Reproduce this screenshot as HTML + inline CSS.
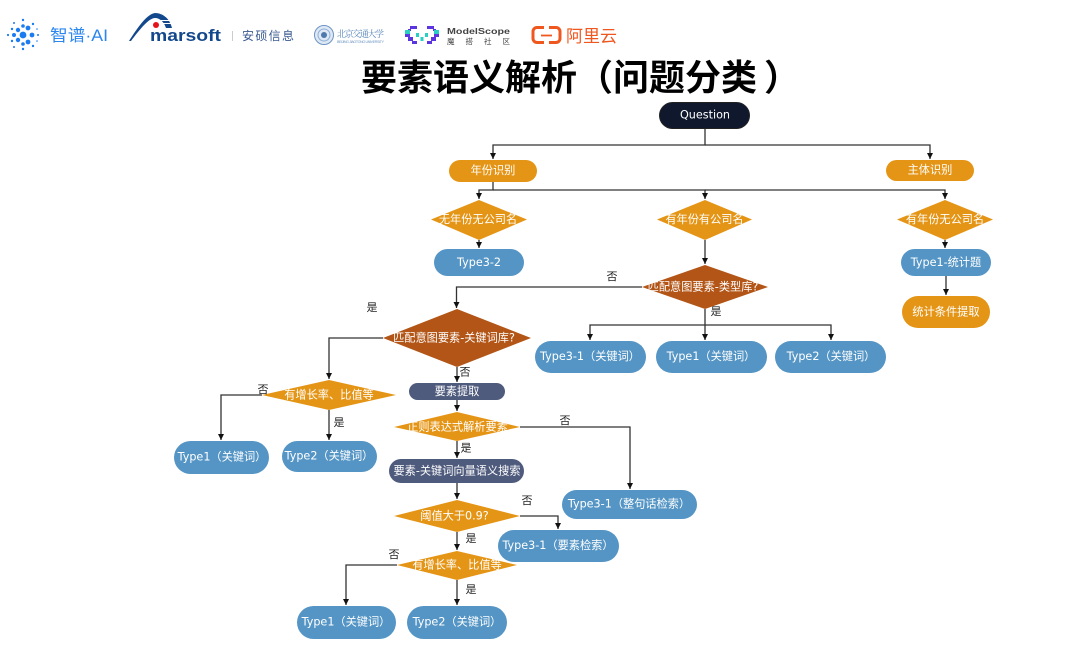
<!DOCTYPE html>
<html><head><meta charset="utf-8"><style>
html,body{margin:0;padding:0;background:#fff;width:1080px;height:660px;overflow:hidden}
svg{display:block}
text{font-family:"Liberation Sans","Noto Sans CJK SC",sans-serif}
.t{fill:#fff;font-size:11.2px;text-anchor:middle;dominant-baseline:central;font-family:"DejaVu Sans","Noto Sans CJK SC",sans-serif}
.l{fill:#222;font-size:11px;text-anchor:middle;dominant-baseline:central}
.c{fill:none;stroke:#333;stroke-width:1.3}
</style></head><body>
<svg width="1080" height="660" viewBox="0 0 1080 660" xmlns="http://www.w3.org/2000/svg">
<defs><marker id="a" markerUnits="userSpaceOnUse" markerWidth="8" markerHeight="8" refX="6" refY="3" orient="auto"><path d="M0 0L6 3L0 6z" fill="#111"/></marker></defs>

<!-- logos -->
<g fill="#1b7bf0">
<circle cx="23" cy="35" r="3.4"/><circle cx="18" cy="30" r="2.2"/><circle cx="28" cy="28" r="2.4"/><circle cx="18" cy="40" r="2.2"/><circle cx="28" cy="42" r="2.4"/><circle cx="32" cy="35" r="2.4"/><circle cx="14" cy="35" r="2"/><circle cx="23" cy="26" r="1.8"/><circle cx="23" cy="44" r="1.8"/><circle cx="12" cy="29" r="1.2"/><circle cx="12" cy="41" r="1.2"/><circle cx="33" cy="24" r="1.2"/><circle cx="33" cy="46" r="1.2"/><circle cx="14" cy="23" r="1"/><circle cx="14" cy="47" r="1"/><circle cx="23" cy="20" r="1.2"/><circle cx="23" cy="49" r="1.2"/><circle cx="38" cy="35" r="1"/><circle cx="8" cy="35" r="1.1"/><circle cx="37" cy="29" r=".8"/><circle cx="37" cy="41" r=".8"/>
</g>
<text x="50" y="41" font-size="16.500" fill="#2b86ee" textLength="58" lengthAdjust="spacingAndGlyphs">智谱·AI</text>
<path d="M129 41C138 27 147 14 155 13C163 13 170 19 172 28L166 28C164 22 160 18 155 18C149 18 140 29 131 41z" fill="#14488c"/>
<path d="M161 20.500H173M163 23.500H173" stroke="#fff" stroke-width="1"/>
<circle cx="156" cy="25" r="3" fill="#e5141b"/>
<text x="150" y="41" font-size="17" font-weight="bold" fill="#14488c" textLength="71" lengthAdjust="spacingAndGlyphs">marsoft</text>
<rect x="232" y="31" width="1" height="10" fill="#ccc"/>
<text x="242" y="40" font-size="12" fill="#3a5a92" textLength="52">安硕信息</text>
<circle cx="324" cy="35" r="9.500" fill="#dfe9f5" stroke="#6c95c4"/><circle cx="324" cy="35" r="6" fill="none" stroke="#8fb0d6"/><circle cx="324" cy="35" r="3" fill="#4d79ac"/>
<text x="337" y="37" font-size="9" fill="#5583b8" textLength="47" style="font-family:'Liberation Serif','Noto Serif CJK SC',serif">北京交通大学</text>
<text x="337" y="43" font-size="3.600" fill="#6c95c4" textLength="47">BEIJING JIAOTONG UNIVERSITY</text>
<g fill="#5a35e0">
<rect x="410" y="26" width="7" height="3"/><rect x="408" y="29" width="3" height="2"/><rect x="405" y="34" width="5" height="3"/><rect x="408" y="37" width="5" height="4"/><rect x="412" y="41" width="5" height="3"/>
<rect x="427" y="26" width="7" height="3"/><rect x="433" y="29" width="3" height="2"/><rect x="434" y="34" width="5" height="3"/><rect x="431" y="37" width="5" height="4"/><rect x="427" y="41" width="5" height="3"/>
</g>
<g fill="#28cfc2"><rect x="405" y="30" width="5" height="4"/><rect x="434" y="30" width="5" height="4"/><rect x="416" y="33" width="3" height="4"/><rect x="420.500" y="37" width="3" height="4"/><rect x="425" y="33" width="3" height="4"/></g>
<text x="447" y="34" font-size="8.500" font-weight="bold" fill="#444" textLength="63" lengthAdjust="spacingAndGlyphs">ModelScope</text>
<text x="447" y="44" font-size="7.500" fill="#444" textLength="63">魔搭社区</text>
<path d="M544 27.500H537a4 4 0 0 0-4 4V38.500a4 4 0 0 0 4 4H544M549 27.500H556a4 4 0 0 1 4 4V38.500a4 4 0 0 1-4 4H549" fill="none" stroke="#f0571f" stroke-width="3"/>
<path d="M541 35.500H552" stroke="#f0571f" stroke-width="1.800"/>
<text x="566" y="42" font-size="17" fill="#f0571f">阿里云</text>

<text x="361" y="90" font-size="36" font-weight="bold" fill="#000" style="font-family:'Noto Sans CJK SC',sans-serif">要素语义解析（问题分类</text>
<text x="764" y="90" font-size="36" font-weight="bold" fill="#000" style="font-family:'Noto Sans CJK SC',sans-serif">）</text>

<!-- connectors -->
<path class="c" d="M705 129V145H493V159" marker-end="url(#a)"/>
<path class="c" d="M705 145H930V159" marker-end="url(#a)"/>
<path class="c" d="M493 182V190H479V199" marker-end="url(#a)"/>
<path class="c" d="M493 190H705V199" marker-end="url(#a)"/>
<path class="c" d="M705 190H945V199" marker-end="url(#a)"/>
<path class="c" d="M479 240V248" marker-end="url(#a)"/>
<path class="c" d="M705 240V264" marker-end="url(#a)"/>
<path class="c" d="M945 240V248" marker-end="url(#a)"/>
<path class="c" d="M946 276V295" marker-end="url(#a)"/>
<path class="c" d="M642 287H456.500V308" marker-end="url(#a)"/>
<path class="c" d="M705 309V325H590V340" marker-end="url(#a)"/>
<path class="c" d="M705 325V340" marker-end="url(#a)"/>
<path class="c" d="M705 325H831V340" marker-end="url(#a)"/>
<path class="c" d="M383 338H329V379" marker-end="url(#a)"/>
<path class="c" d="M457 367V382" marker-end="url(#a)"/>
<path class="c" d="M262 395H221V440" marker-end="url(#a)"/>
<path class="c" d="M329 410V440" marker-end="url(#a)"/>
<path class="c" d="M457 400V411" marker-end="url(#a)"/>
<path class="c" d="M520 427H630V489" marker-end="url(#a)"/>
<path class="c" d="M457 441V458" marker-end="url(#a)"/>
<path class="c" d="M457 483V499" marker-end="url(#a)"/>
<path class="c" d="M520 516H558V529" marker-end="url(#a)"/>
<path class="c" d="M457 532V550" marker-end="url(#a)"/>
<path class="c" d="M397 565H346V605" marker-end="url(#a)"/>
<path class="c" d="M457 580V605" marker-end="url(#a)"/>

<!-- nodes -->
<rect x="659.500" y="102.500" width="90" height="26" rx="13" fill="#10182e" stroke="#222"/>
<text class="t" x="705" y="115">Question</text>
<rect x="449" y="160" width="88" height="22" rx="11" fill="#e59516"/><text class="t" x="493" y="170.500">年份识别</text>
<rect x="886" y="160" width="88" height="21" rx="10.500" fill="#e59516"/><text class="t" x="930" y="170">主体识别</text>

<g fill="#e59516">
<polygon points="431,219.500 479,200 527,219.500 479,240"/>
<polygon points="657,219.500 705,200 752,219.500 705,240"/>
<polygon points="897,219.500 945,200 993,219.500 945,240"/>
<polygon points="262,395 329,380 396,395 329,410"/>
<polygon points="394,427 457,412 520,427 457,441"/>
<polygon points="394,516 457,500 520,516 457,532"/>
<polygon points="397,565 457,551 517,565 457,580"/>
</g>
<g fill="#b25516">
<polygon points="642,287 705,265 768,287 705,309"/>
<polygon points="383,338 457,309 531,338 457,367"/>
</g>
<text class="t" x="478" y="219.500">无年份无公司名</text>
<text class="t" x="704.500" y="219.500">有年份有公司名</text>
<text class="t" x="945" y="219.500">有年份无公司名</text>
<text class="t" x="703" y="287">匹配意图要素-类型库?</text>
<text class="t" x="454" y="338">匹配意图要素-关键词库?</text>
<text class="t" x="329" y="395">有增长率、比值等</text>
<text class="t" x="457.500" y="427">正则表达式解析要素</text>
<text class="t" x="454.500" y="516">阈值大于0.9?</text>
<text class="t" x="457" y="565">有增长率、比值等</text>

<g fill="#5495c5">
<rect x="434" y="249" width="90" height="27" rx="13.500"/>
<rect x="901" y="249" width="90" height="27" rx="13.500"/>
<rect x="535" y="341" width="111" height="32" rx="16"/>
<rect x="656" y="341" width="111" height="32" rx="16"/>
<rect x="775" y="341" width="111" height="32" rx="16"/>
<rect x="174" y="441" width="95" height="33" rx="16.500"/>
<rect x="282" y="441" width="95" height="31" rx="15.500"/>
<rect x="562" y="490" width="135" height="29" rx="14.500"/>
<rect x="498" y="530" width="121" height="32" rx="16"/>
<rect x="297" y="606" width="99" height="33" rx="16.500"/>
<rect x="407" y="606" width="100" height="33" rx="16.500"/>
</g>
<rect x="902" y="296" width="88" height="32" rx="16" fill="#e59516"/>
<rect x="409" y="383" width="96" height="17" rx="8.500" fill="#4f5b7d"/>
<rect x="389" y="459" width="135" height="24" rx="12" fill="#4f5b7d"/>

<text class="t" x="479" y="262.500">Type3-2</text>
<text class="t" x="946" y="262.500">Type1-统计题</text>
<text class="t" x="946" y="312">统计条件提取</text>
<text class="t" x="590" y="356.500">Type3-1（关键词）</text>
<text class="t" x="711" y="356.500">Type1（关键词）</text>
<text class="t" x="831" y="356.500">Type2（关键词）</text>
<text class="t" x="457" y="391.500">要素提取</text>
<text class="t" x="222" y="457">Type1（关键词）</text>
<text class="t" x="329" y="456">Type2（关键词）</text>
<text class="t" x="457" y="471">要素-关键词向量语义搜索</text>
<text class="t" x="629" y="504">Type3-1（整句话检索）</text>
<text class="t" x="558" y="545.500">Type3-1（要素检索）</text>
<text class="t" x="346" y="622">Type1（关键词）</text>
<text class="t" x="457" y="622">Type2（关键词）</text>

<!-- labels -->
<text class="l" x="612" y="277">否</text>
<text class="l" x="716" y="312">是</text>
<text class="l" x="372" y="308">是</text>
<text class="l" x="465" y="372.500">否</text>
<text class="l" x="263" y="390">否</text>
<text class="l" x="339" y="423">是</text>
<text class="l" x="565" y="421">否</text>
<text class="l" x="466" y="448.500">是</text>
<text class="l" x="527" y="501">否</text>
<text class="l" x="471" y="539">是</text>
<text class="l" x="394" y="555">否</text>
<text class="l" x="471" y="590">是</text>
</svg>
</body></html>
